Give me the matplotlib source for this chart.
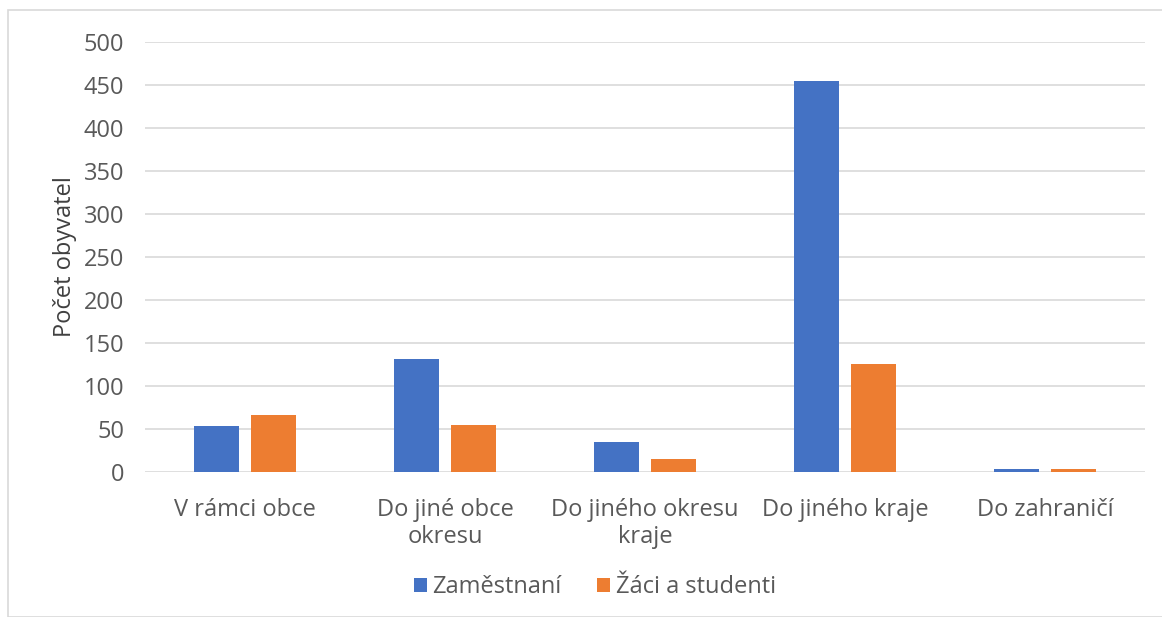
import matplotlib
matplotlib.use("Agg")
import matplotlib.pyplot as plt
import numpy as np
from matplotlib.patches import Rectangle

categories = ["V rámci obce", "Do jiné obce\nokresu", "Do jiného okresu\nkraje", "Do jiného kraje", "Do zahraničí"]
zamestnani = [53, 131, 35, 455, 4]
zaci = [66, 55, 15, 126, 3]
series_names = ["Zaměstnaní", "Žáci a studenti"]
yticks = [0, 50, 100, 150, 200, 250, 300, 350, 400, 450, 500]

plt.rcParams['font.family'] = ['Open Sans', 'DejaVu Sans']
txt = "#595959"
fs = 17

fig = plt.figure(figsize=(11.62, 6.17), dpi=100)
ax = fig.add_axes([145/1162, 1 - 472/617, 1000/1162, 430/617])

x = np.arange(len(categories))
w = 0.225
off = 0.1425
ax.bar(x - off, zamestnani, w, color="#4472C4", label=series_names[0], zorder=3)
ax.bar(x + off, zaci, w, color="#ED7D31", label=series_names[1], zorder=3)

ax.set_xlim(-0.5, len(categories) - 0.5)
ax.set_ylim(0, 500)
ax.set_yticks(yticks)
ax.set_xticks(x)
ax.set_xticklabels(categories, fontsize=fs, color=txt, linespacing=1.15)
ax.tick_params(axis='y', labelsize=fs, labelcolor=txt, length=0, pad=15)
ax.tick_params(axis='x', length=0, pad=19)
ax.grid(axis='y', color="#D9D9D9", linewidth=1.2, zorder=0)
for s in ax.spines.values():
    s.set_visible(False)
ax.set_ylabel("Počet obyvatel", fontsize=fs, color="#404040", labelpad=5)

leg = fig.legend(loc='center', bbox_to_anchor=(595/1162, 1 - 587/617), ncol=2, frameon=False,
                 fontsize=fs, handlelength=0.55, handleheight=0.55, handletextpad=0.25,
                 columnspacing=1.5)
for t in leg.get_texts():
    t.set_color(txt)

fig.patches.append(Rectangle((8/1162, 0), 1160/1162, 1 - 10/617, transform=fig.transFigure,
                             fill=False, edgecolor="#D9D9D9", linewidth=1.2))

fig.savefig("out.png", dpi=100, facecolor="white")
